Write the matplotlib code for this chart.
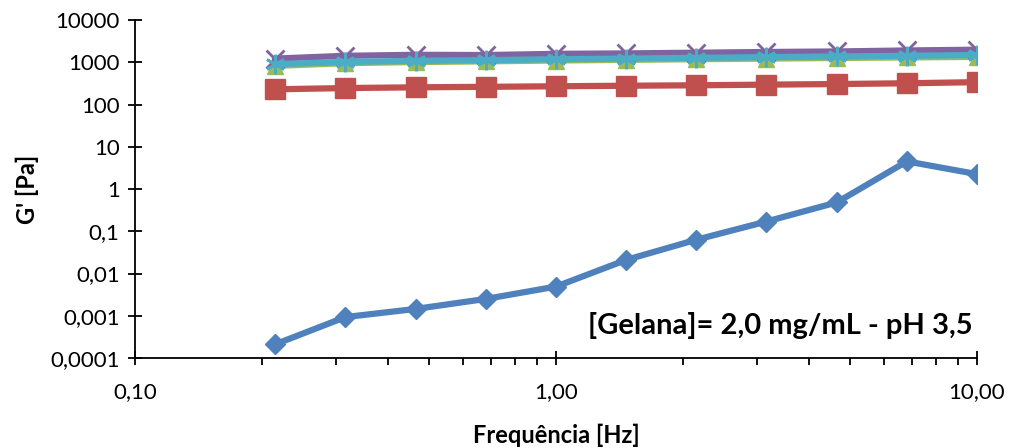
import numpy as np
import matplotlib.pyplot as plt
from matplotlib.ticker import FixedLocator, LogLocator, NullFormatter

plt.rcParams['font.family'] = ['Lato', 'DejaVu Sans']

# frequência [Hz]
freq = [0.215, 0.316, 0.464, 0.681, 1.0, 1.468, 2.154, 3.162, 4.642, 6.813, 10.0]

# G' [Pa] para cada série
s1 = [0.00021, 0.00093, 0.00145, 0.0025, 0.0049, 0.021, 0.063, 0.17, 0.48, 4.5, 2.25]
s2 = [229, 245, 255, 262, 270, 278, 285, 295, 305, 318, 338]
s3 = [820, 950, 1010, 1050, 1100, 1140, 1180, 1220, 1260, 1300, 1340]
s4 = [1220, 1420, 1500, 1480, 1580, 1620, 1680, 1750, 1800, 1900, 1980]
s5 = [900, 1020, 1080, 1120, 1180, 1220, 1270, 1320, 1370, 1420, 1480]

ytick_vals = [0.0001, 0.001, 0.01, 0.1, 1, 10, 100, 1000, 10000]
ytick_labels = ['0,0001', '0,001', '0,01', '0,1', '1', '10', '100', '1000', '10000']
xtick_vals = [0.1, 1, 10]
xtick_labels = ['0,10', '1,00', '10,00']

fig = plt.figure(figsize=(10.22, 4.48), dpi=100)
ax = fig.add_axes([135 / 1022, 1 - 358 / 448, (977 - 135) / 1022, (358 - 20) / 448])

ax.plot(freq, s1, color='#4F81BD', lw=4.5, marker='D', ms=10, zorder=3)
ax.plot(freq, s2, color='#C0504D', lw=4.5, marker='s', ms=14, zorder=3)
ax.plot(freq, s3, color='#9BBB59', lw=4.5, marker='^', ms=12, zorder=3)
ax.plot(freq, s4, color='#8064A2', lw=4.5, marker='x', ms=13, mew=2, zorder=3)
ax.plot(freq, s5, color='#4BACC6', lw=4.5, marker=(6, 2, 0), ms=14, mew=2, zorder=4)

ax.set_xscale('log')
ax.set_yscale('log')
ax.set_xlim(0.1, 10)
ax.set_ylim(0.0001, 10000)

ax.yaxis.set_major_locator(FixedLocator(ytick_vals))
ax.set_yticklabels(ytick_labels)
ax.yaxis.set_minor_locator(FixedLocator([]))
ax.xaxis.set_major_locator(FixedLocator(xtick_vals))
ax.set_xticklabels(xtick_labels)
ax.xaxis.set_minor_locator(LogLocator(base=10, subs=np.arange(2, 10)))
ax.xaxis.set_minor_formatter(NullFormatter())

for side in ['top', 'right']:
    ax.spines[side].set_visible(False)
for side in ['left', 'bottom']:
    ax.spines[side].set_linewidth(1.3)
ax.tick_params(axis='both', which='major', direction='inout', length=10, width=1.3,
               labelsize=16, pad=6)
ax.tick_params(axis='x', which='minor', direction='out', length=5, width=1.3)
ax.tick_params(axis='x', which='major', pad=12)

ax.set_xlabel('Frequência [Hz]', fontsize=17, fontweight='bold', labelpad=16)
ax.set_ylabel("G' [Pa]", fontsize=17, fontweight='bold', labelpad=8)

ax.text(0.995, 0.095, '[Gelana]= 2,0 mg/mL - pH 3,5', transform=ax.transAxes,
        ha='right', va='center', fontsize=21, fontweight='bold')

fig.savefig('out.png', dpi=100)
